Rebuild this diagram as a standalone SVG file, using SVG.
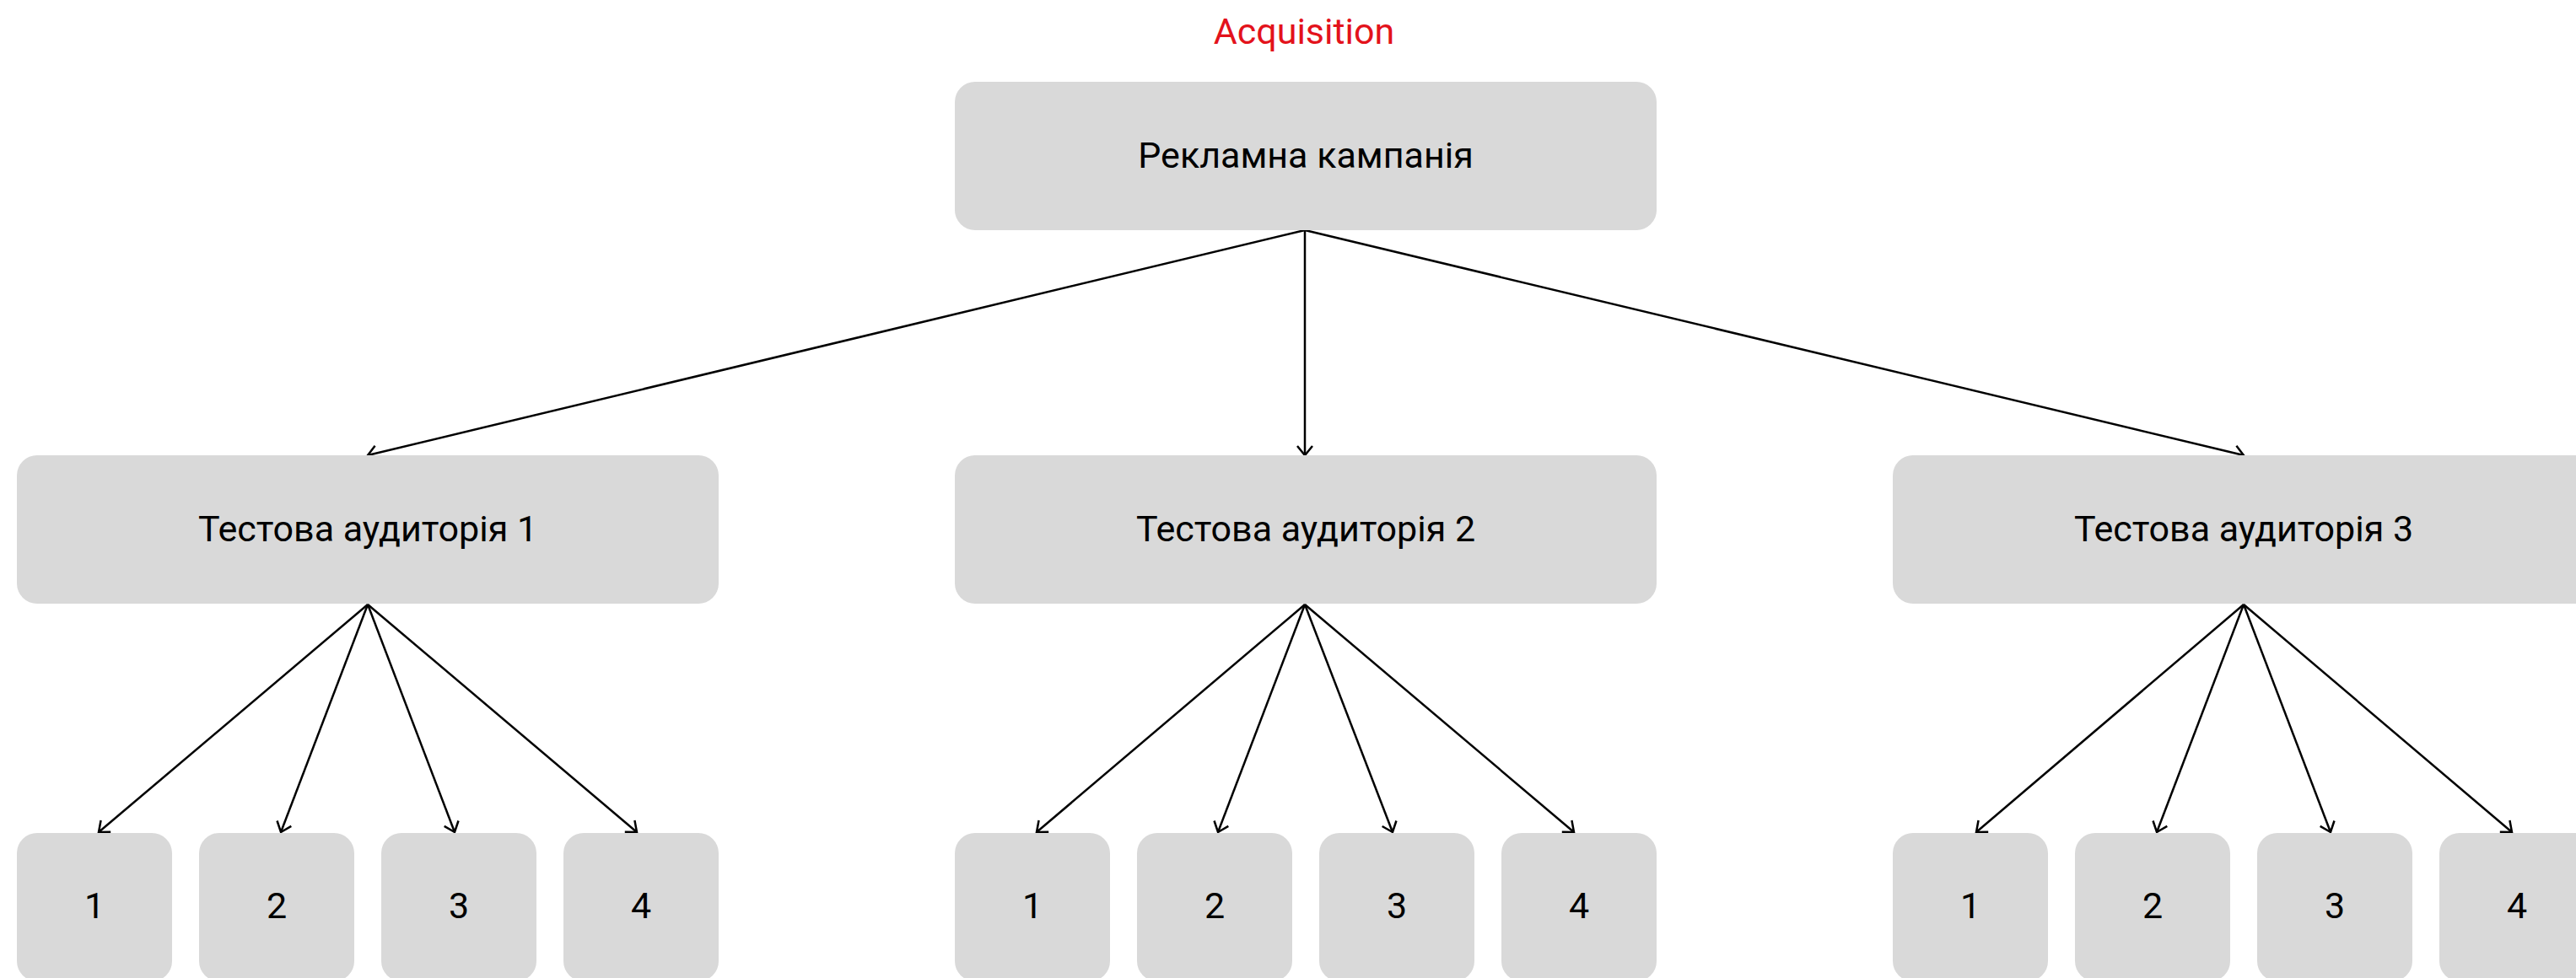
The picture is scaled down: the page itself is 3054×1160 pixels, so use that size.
<svg xmlns="http://www.w3.org/2000/svg" width="3054" height="1160" viewBox="0 0 3054 1160">
<style>
.n{fill:#d9d9d9}
.t{font-family:Roboto,"Liberation Sans",sans-serif;font-size:43px;fill:#000;text-anchor:middle}
.title{font-family:Roboto,"Liberation Sans",sans-serif;font-size:43px;fill:#e3121b;text-anchor:middle}
.c{stroke:#000;stroke-width:2.5;fill:none;marker-end:url(#a)}
</style>
<defs>
<marker id="a" markerUnits="userSpaceOnUse" markerWidth="30" markerHeight="30" refX="15" refY="15" orient="auto" viewBox="0 0 30 30">
<path d="M4,6 L15,15 L4,24" fill="none" stroke="#000" stroke-width="2.5"/>
</marker>
</defs>
<rect width="3054" height="1160" fill="#fff"/>
<text class="title" x="1546" y="52">Acquisition</text>
<g id="connectors">
<line class="c" x1="1547" y1="273" x2="436" y2="540"/>
<line class="c" x1="1547" y1="273" x2="1547" y2="540"/>
<line class="c" x1="1547" y1="273" x2="2660" y2="540"/>
<line class="c" x1="436" y1="717" x2="117" y2="987"/>
<line class="c" x1="436" y1="717" x2="333" y2="987"/>
<line class="c" x1="436" y1="717" x2="539" y2="987"/>
<line class="c" x1="436" y1="717" x2="755" y2="987"/>
<line class="c" x1="1547" y1="717" x2="1229" y2="987"/>
<line class="c" x1="1547" y1="717" x2="1444" y2="987"/>
<line class="c" x1="1547" y1="717" x2="1651" y2="987"/>
<line class="c" x1="1547" y1="717" x2="1866" y2="987"/>
<line class="c" x1="2660" y1="717" x2="2343" y2="987"/>
<line class="c" x1="2660" y1="717" x2="2557" y2="987"/>
<line class="c" x1="2660" y1="717" x2="2763" y2="987"/>
<line class="c" x1="2660" y1="717" x2="2978" y2="987"/>
</g>
<g id="root"><rect class="n" x="1132" y="97" width="832" height="176" rx="24"/><text class="t" x="1548" y="199">Рекламна кампанія</text></g>
<g id="aud1"><rect class="n" x="20" y="540" width="832" height="176" rx="24"/><text class="t" x="436" y="642">Тестова аудиторія 1</text></g>
<g id="aud2"><rect class="n" x="1132" y="540" width="832" height="176" rx="24"/><text class="t" x="1548" y="642">Тестова аудиторія 2</text></g>
<g id="aud3"><rect class="n" x="2244" y="540" width="832" height="176" rx="24"/><text class="t" x="2660" y="642">Тестова аудиторія 3</text></g>
<g id="a1-1"><rect class="n" x="20" y="988" width="184" height="176" rx="24"/><text class="t" x="112" y="1089">1</text></g>
<g id="a1-2"><rect class="n" x="236" y="988" width="184" height="176" rx="24"/><text class="t" x="328" y="1089">2</text></g>
<g id="a1-3"><rect class="n" x="452" y="988" width="184" height="176" rx="24"/><text class="t" x="544" y="1089">3</text></g>
<g id="a1-4"><rect class="n" x="668" y="988" width="184" height="176" rx="24"/><text class="t" x="760" y="1089">4</text></g>
<g id="a2-1"><rect class="n" x="1132" y="988" width="184" height="176" rx="24"/><text class="t" x="1224" y="1089">1</text></g>
<g id="a2-2"><rect class="n" x="1348" y="988" width="184" height="176" rx="24"/><text class="t" x="1440" y="1089">2</text></g>
<g id="a2-3"><rect class="n" x="1564" y="988" width="184" height="176" rx="24"/><text class="t" x="1656" y="1089">3</text></g>
<g id="a2-4"><rect class="n" x="1780" y="988" width="184" height="176" rx="24"/><text class="t" x="1872" y="1089">4</text></g>
<g id="a3-1"><rect class="n" x="2244" y="988" width="184" height="176" rx="24"/><text class="t" x="2336" y="1089">1</text></g>
<g id="a3-2"><rect class="n" x="2460" y="988" width="184" height="176" rx="24"/><text class="t" x="2552" y="1089">2</text></g>
<g id="a3-3"><rect class="n" x="2676" y="988" width="184" height="176" rx="24"/><text class="t" x="2768" y="1089">3</text></g>
<g id="a3-4"><rect class="n" x="2892" y="988" width="184" height="176" rx="24"/><text class="t" x="2984" y="1089">4</text></g>
</svg>
